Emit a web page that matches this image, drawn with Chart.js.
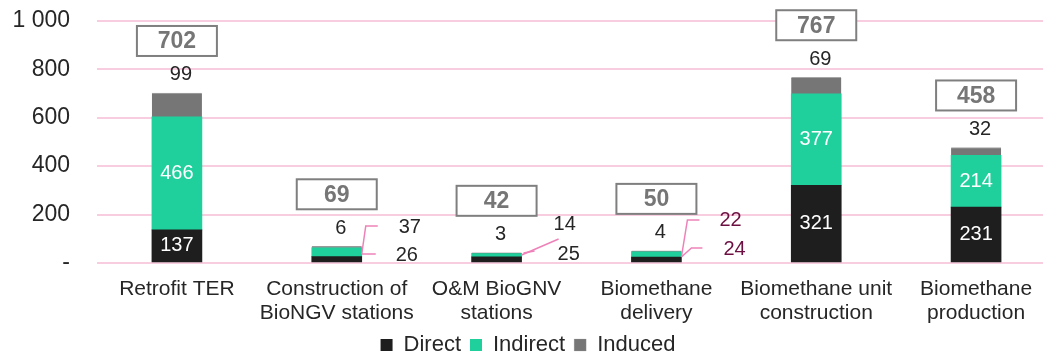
<!DOCTYPE html>
<html>
<head>
<meta charset="utf-8">
<script src="https://cdn.jsdelivr.net/npm/chart.js@4/dist/chart.umd.min.js"></script>
<style>
  html, body { margin: 0; padding: 0; background: #ffffff; overflow: hidden; }
  #clip { width: 1043px; height: 354px; overflow: hidden; }
  #wrap { position: relative; width: 1056px; height: 386px; margin-top: -20px; }
</style>
</head>
<body>
<div id="clip"><div id="wrap"><canvas id="jobs"></canvas></div></div>
<script>
// Jobs by activity, split into direct / indirect / induced
const categories = [
  ['Retrofit TER'],
  ['Construction of', 'BioNGV stations'],
  ['O&M BioGNV', 'stations'],
  ['Biomethane', 'delivery'],
  ['Biomethane unit', 'construction'],
  ['Biomethane', 'production']
];
const direct   = [137, 26, 25, 24, 321, 231];
const indirect = [466, 37, 14, 22, 377, 214];
const induced  = [99, 6, 3, 4, 69, 32];
const totals   = [702, 69, 42, 50, 767, 458];
const yTickLabels = ['-', '200', '400', '600', '800', '1 000'];

const FONT = '"Liberation Sans", Arial, sans-serif';
const TEXT = '#262626';
const COLORS = { direct: '#1e1e1e', indirect: '#1fd09d', induced: '#767676' };

// Callouts for stacks too thin to hold their own labels
// (offsets in px from the bar's right edge / the zero line)
const callouts = {
  1: { color: TEXT,
       upper: { dx: 37, dy: -36, path: [[0, -9], [4, -37], [16, -37]] },
       lower: { dx: 34, dy: -8,  path: [[0, -9], [14, -9]] } },
  2: { color: TEXT,
       upper: { dx: 32, dy: -39, path: [[0, -8], [37, -24]] },
       lower: { dx: 36, dy: -9,  path: [[2, -10], [13, -12]] } },
  3: { color: '#6b1040',
       upper: { dx: 38, dy: -43, path: [[0, -6], [6, -43], [18, -43]] },
       lower: { dx: 42, dy: -14, path: [[0, -6], [10, -15], [21, -15]] } }
};

const stackLabels = {
  id: 'stackLabels',
  afterDatasetsDraw(chart) {
    const ctx = chart.ctx;
    const zeroY = chart.scales.y.getPixelForValue(0);
    const mD = chart.getDatasetMeta(0), mI = chart.getDatasetMeta(1), mU = chart.getDatasetMeta(2);
    ctx.save();
    categories.forEach((_, i) => {
      const bD = mD.data[i], bI = mI.data[i], bU = mU.data[i];
      const xC = bD.x;
      const xR = bD.x + bD.width / 2;
      const top = bU.y;
      const co = callouts[i];

      ctx.textBaseline = 'middle';
      if (!co) {
        // values inside the direct and indirect segments
        ctx.font = '20px ' + FONT;
        ctx.fillStyle = '#ffffff';
        ctx.textAlign = 'center';
        ctx.fillText(String(direct[i]), xC, (bD.y + bD.base) / 2);
        ctx.fillText(String(indirect[i]), xC, (bI.y + bI.base) / 2);
      } else {
        ctx.strokeStyle = '#ee82b8';
        ctx.lineWidth = 1.5;
        [['upper', indirect[i]], ['lower', direct[i]]].forEach(([k, v]) => {
          const c = co[k];
          ctx.beginPath();
          c.path.forEach(([px, py], j) => {
            if (j === 0) ctx.moveTo(xR + px, zeroY + py);
            else ctx.lineTo(xR + px, zeroY + py);
          });
          ctx.stroke();
          ctx.font = '20px ' + FONT;
          ctx.fillStyle = co.color;
          ctx.textAlign = 'left';
          ctx.fillText(String(v), xR + c.dx, zeroY + c.dy);
        });
      }

      // induced value above the stack
      ctx.font = '20px ' + FONT;
      ctx.fillStyle = TEXT;
      ctx.textAlign = 'center';
      ctx.fillText(String(induced[i]), xC + 4, top - 18);

      // boxed total
      const bw = 80, bh = 30, cy = top - 52;
      ctx.fillStyle = '#ffffff';
      ctx.fillRect(xC - bw / 2, cy - bh / 2, bw, bh);
      ctx.strokeStyle = '#7f7f7f';
      ctx.lineWidth = 2;
      ctx.strokeRect(xC - bw / 2, cy - bh / 2, bw, bh);
      ctx.font = 'bold 23px ' + FONT;
      ctx.fillStyle = '#767676';
      ctx.fillText(String(totals[i]), xC, cy + 1);
    });
    ctx.restore();
  }
};

new Chart(document.getElementById('jobs'), {
  type: 'bar',
  data: {
    labels: categories,
    datasets: [
      { label: 'Direct',   data: direct,   backgroundColor: COLORS.direct, borderWidth: 0 },
      { label: 'Indirect', data: indirect, backgroundColor: COLORS.indirect, borderWidth: 0 },
      { label: 'Induced',  data: induced,  backgroundColor: COLORS.induced,
        borderColor: '#a6a6a6', borderWidth: { top: 1, left: 0, right: 0, bottom: 0 },
        borderSkipped: false }
    ]
  },
  options: {
    responsive: true,
    maintainAspectRatio: false,
    animation: false,
    layout: { padding: { top: 0, left: 0, right: 0, bottom: 0 } },
    datasets: { bar: { barThickness: 50 } },
    scales: {
      x: {
        stacked: true,
        grid: { display: false, drawTicks: false },
        border: { display: false },
        ticks: {
          color: TEXT, padding: 14, maxRotation: 0, autoSkip: false,
          font: { family: FONT, size: 21, lineHeight: 1.15 }
        },
        afterFit(scale) { scale.height = 62; }
      },
      y: {
        stacked: true,
        min: 0, max: 1000,
        grid: { color: '#f9cde0', lineWidth: 2, drawTicks: false },
        border: { display: false },
        ticks: {
          stepSize: 200, color: TEXT, padding: 27,
          font: { family: FONT, size: 23 },
          callback: (v, idx) => yTickLabels[idx]
        },
        afterFit(scale) { scale.width = 97; }
      }
    },
    plugins: {
      legend: {
        position: 'bottom',
        labels: {
          color: TEXT, boxWidth: 12, boxHeight: 12, padding: 9,
          font: { family: FONT, size: 22, lineHeight: 1.0 }
        }
      },
      tooltip: { enabled: false }
    }
  },
  plugins: [stackLabels]
});
</script>
</body>
</html>
